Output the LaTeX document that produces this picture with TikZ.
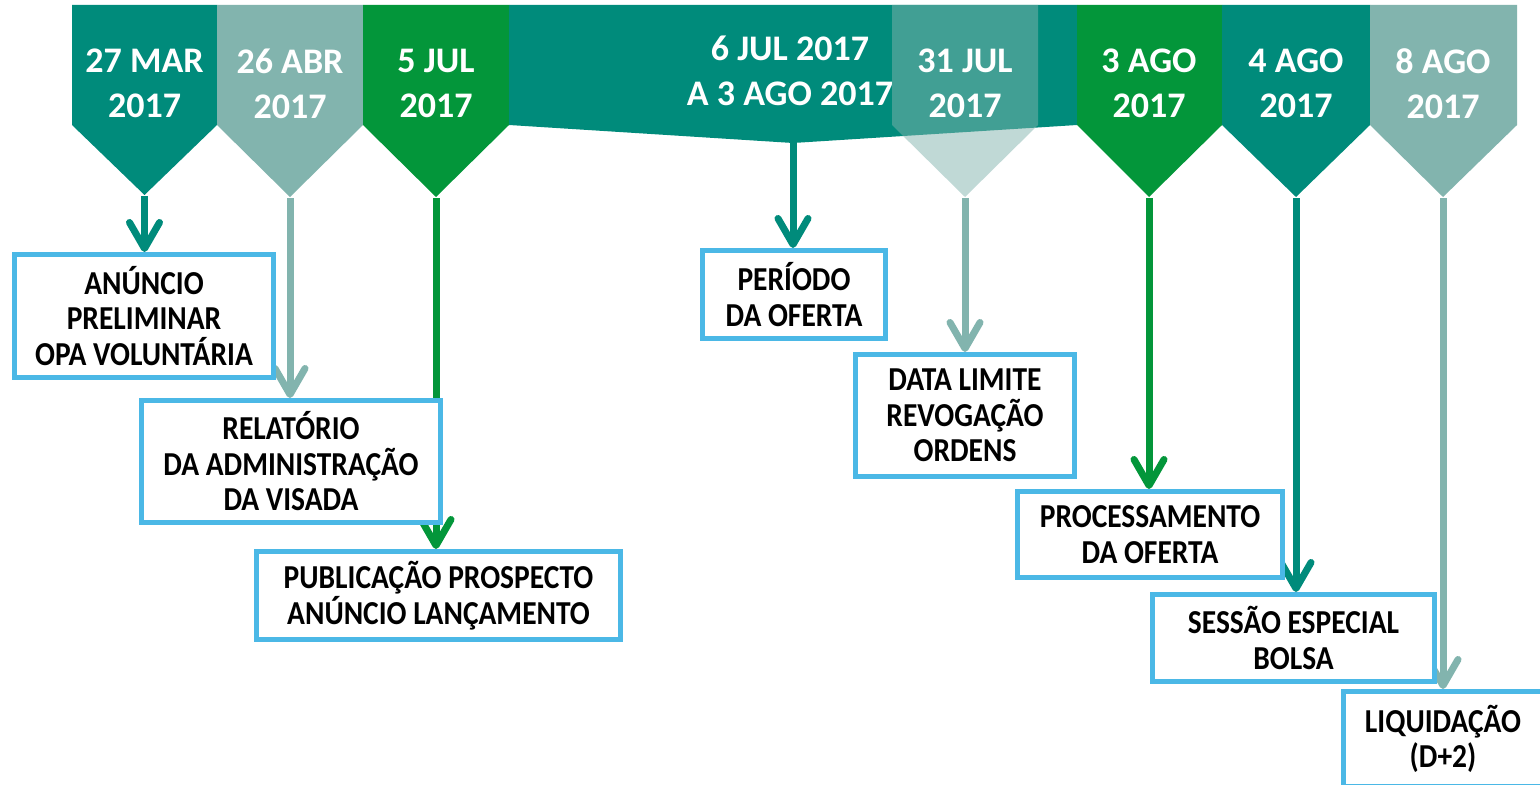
\documentclass[tikz,border=0pt]{standalone}
\usepackage{fontspec}
\setmainfont{Carlito}
\newfontfamily\boxfont{Carlito}[FakeStretch=0.88]
\usetikzlibrary{arrows.meta}
\definecolor{tealA}{HTML}{008B7B}
\definecolor{tealL}{HTML}{82B4AE}
\definecolor{greenA}{HTML}{03963A}
\definecolor{boxblue}{HTML}{4BB8E6}
\begin{document}
\begin{tikzpicture}[x=1bp,y=-1bp,
  hdr/.style={text=white, font=\fontsize{36bp}{45bp}\selectfont\bfseries, align=center, inner sep=0pt},
  evbox/.style={draw=boxblue, line width=5bp, fill=white, text=black,
     font=\boxfont\fontsize{33.5bp}{35.5bp}\selectfont\bfseries, align=center, inner sep=0pt},
  conn/.style={line width=7bp, -{Straight Barb[length=26bp,width=30bp,round]}}]
\useasboundingbox (0,0) rectangle (1540,784);
\clip (0,0) rectangle (1540,784);
\fill[white] (0,0) rectangle (1540,784);

% header shapes
\fill[tealA]  (72,5) -- (217,5) -- (217,125) -- (144.5,195) -- (72,125) -- cycle;
\fill[tealL]  (217,5) -- (363,5) -- (363,125) -- (290,197) -- (217,125) -- cycle;
\fill[greenA] (363,5) -- (509,5) -- (509,125) -- (436,197) -- (363,125) -- cycle;
\fill[tealA]  (509,5) -- (1077,5) -- (1077,125) -- (793,143) -- (509,125) -- cycle;
\fill[greenA] (1077,5) -- (1222,5) -- (1222,125) -- (1149,197) -- (1077,125) -- cycle;
\fill[tealA]  (1222,5) -- (1370,5) -- (1370,125) -- (1296,197) -- (1222,125) -- cycle;
\fill[tealL]  (1370,5) -- (1517,5) -- (1517,125) -- (1443,197) -- (1370,125) -- cycle;

\node[hdr] (h1) at (144.5,83.5) {27 MAR\\2017};
\node[hdr] (h2) at (290,83.5) {26 ABR\\2017};
\node[hdr] (h3) at (436,83.5) {5 JUL\\2017};
\node[hdr] (h4) at (790,70.5) {6 JUL 2017\\A 3 AGO 2017};

% 31 JUL translucent overlay
\fill[tealL, fill opacity=0.5] (892,5) -- (1038,5) -- (1038,125) -- (965,197) -- (892,125) -- cycle;
\node[hdr] (h5) at (965,83.5) {31 JUL\\2017};
\node[hdr] (h6) at (1149,83.5) {3 AGO\\2017};
\node[hdr] (h7) at (1296,83.5) {4 AGO\\2017};
\node[hdr] (h8) at (1443,83.5) {8 AGO\\2017};

% tips
\coordinate (t1) at (144.5,196);
\coordinate (t2) at (290,198);
\coordinate (t3) at (436,198);
\coordinate (t4) at (793,143);
\coordinate (t5) at (965,198);
\coordinate (t6) at (1149,198);
\coordinate (t7) at (1296,198);
\coordinate (t8) at (1443,198);

% box placeholders (boxes are drawn after the connectors)
\path
  node[evbox, draw=none, fill=none, minimum width=259bp, minimum height=123bp] (b1) at (144,316) {}
  node[evbox, draw=none, fill=none, minimum width=299bp, minimum height=122bp] (b2) at (291,461.5) {}
  node[evbox, draw=none, fill=none, minimum width=364bp, minimum height=88bp] (b3) at (438.5,595.5) {}
  node[evbox, draw=none, fill=none, minimum width=183bp, minimum height=88bp] (b4) at (794,294.5) {}
  node[evbox, draw=none, fill=none, minimum width=219bp, minimum height=122bp] (b5) at (965,415.5) {}
  node[evbox, draw=none, fill=none, minimum width=265bp, minimum height=86bp] (b6) at (1150,534.5) {}
  node[evbox, draw=none, fill=none, minimum width=282bp, minimum height=87bp] (b7) at (1293.5,638) {}
  node[evbox, draw=none, fill=none, minimum width=200bp, minimum height=95bp] (b8) at (1443,739) {};

% connectors
\draw[conn, tealA]  (t1) -- (t1 |- b1.north);
\draw[conn, tealL]  (t2) -- (t2 |- b2.north);
\draw[conn, greenA] (t3) -- (t3 |- b3.north);
\draw[conn, tealA]  (t4) -- (t4 |- b4.north);
\draw[conn, tealL]  (t5) -- (t5 |- b5.north);
\draw[conn, greenA] (t6) -- (t6 |- b6.north);
\draw[conn, tealA]  (t7) -- (t7 |- b7.north);
\draw[conn, tealL]  (t8) -- (t8 |- b8.north);

% boxes on top
\node[evbox, minimum width=259bp, minimum height=123bp] at (b1) {ANÚNCIO\\PRELIMINAR\\OPA VOLUNTÁRIA};
\node[evbox, minimum width=299bp, minimum height=122bp] at (b2) {RELATÓRIO\\DA ADMINISTRAÇÃO\\DA VISADA};
\node[evbox, minimum width=364bp, minimum height=88bp] at (b3) {PUBLICAÇÃO PROSPECTO\\ANÚNCIO LANÇAMENTO};
\node[evbox, minimum width=183bp, minimum height=88bp] at (b4) {PERÍODO\\DA OFERTA};
\node[evbox, minimum width=219bp, minimum height=122bp] at (b5) {DATA LIMITE\\REVOGAÇÃO\\ORDENS};
\node[evbox, minimum width=265bp, minimum height=86bp] at (b6) {PROCESSAMENTO\\DA OFERTA};
\node[evbox, minimum width=282bp, minimum height=87bp] at (b7) {SESSÃO ESPECIAL\\BOLSA};
\node[evbox, minimum width=200bp, minimum height=95bp] at (b8) {LIQUIDAÇÃO\\(D+2)};
\end{tikzpicture}
\end{document}
